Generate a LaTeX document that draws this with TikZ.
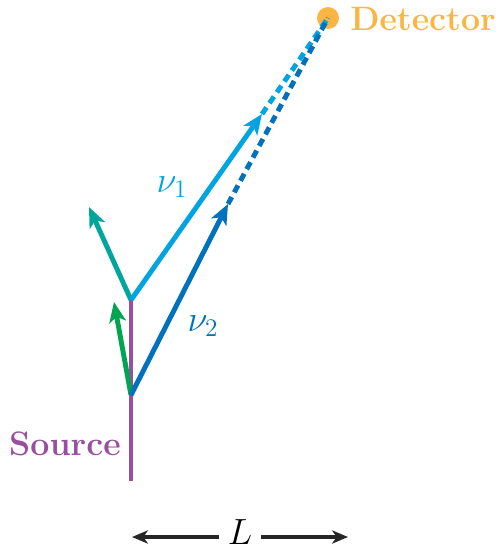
\documentclass[tikz,border=0pt]{standalone}
\usepackage{amsmath,amssymb}
\usepackage{xcolor}
\usetikzlibrary{arrows.meta,positioning,calc}
\definecolor{srcpurple}{HTML}{994F9F}
\definecolor{detorange}{HTML}{FBB545}
\definecolor{nuone}{HTML}{00A4E0}
\definecolor{nutwo}{HTML}{0071BC}
\definecolor{teal}{HTML}{00A59B}
\definecolor{grn}{HTML}{00A451}
\begin{document}
\begin{tikzpicture}[
  x=0.02cm,y=-0.02cm,
  beam/.style={line width=2.8pt,-{Stealth[length=11.5pt,width=9.5pt,inset=3pt]}},
  ext/.style={line width=2.8pt,dash pattern=on 4.5pt off 3pt},
  bigfont/.style={font=\fontsize{19.3}{22}\selectfont\bfseries},
  mathfont/.style={font=\fontsize{22}{24}\selectfont}]
\useasboundingbox (0,0) rectangle (497,551);
\coordinate (low) at (131,395);
\coordinate (up) at (131,300);
\coordinate (bot) at (131,481);
\coordinate (tip1) at (262,114);
\coordinate (tip2) at (228,204);
\node[circle,fill=detorange,inner sep=0pt,minimum size=12.5pt] (det) at (328,18) {};
\node[bigfont,text=detorange,anchor=west,inner sep=0pt] (detlabel) at (350,19) {Detector};
% source line
\draw[srcpurple,line width=2.8pt] (bot) -- (up);
\node[bigfont,text=srcpurple,anchor=east,inner sep=0pt] (srclabel) at (121,444) {Source};
% neutrino paths
\draw[beam,grn] (low) -- (114,302);
\draw[beam,teal] (up) -- (89,207);
\draw[beam,nuone] (up) -- (tip1);
\draw[beam,nutwo] (low) -- (tip2);
\draw[ext,nuone] (tip1) -- (det.center);
\draw[ext,nutwo] (tip2) -- (det.center);
\node[text=nuone,mathfont] (nu1) at (172,187) {$\nu_1$};
\node[text=nutwo,mathfont] (nu2) at (203,326) {$\nu_2$};
% baseline
\node[mathfont,inner sep=0pt] (L) at (240,532) {$L$};
\coordinate (Lleft) at (132,537);
\coordinate (Lright) at (348,537);
\draw[line width=1.8pt,-{Stealth[length=9pt,width=7.5pt,inset=2.5pt]},black!85] (L.east|-Lright) ++(9,0) -- (Lright);
\draw[line width=1.8pt,-{Stealth[length=9pt,width=7.5pt,inset=2.5pt]},black!85] (L.west|-Lleft) ++(-9,0) -- (Lleft);
\end{tikzpicture}
\end{document}
